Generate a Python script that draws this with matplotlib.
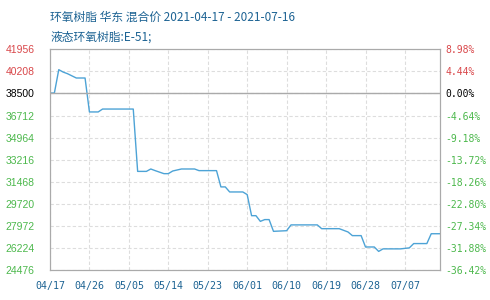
import matplotlib
matplotlib.use("Agg")
from matplotlib import pyplot as plt

# price data (day offset from 2021-04-17, price)
days = [0, 1, 2, 3, 4, 6, 8, 9, 11, 12, 19, 20, 22, 23, 24, 26, 27, 28, 30, 33,
        34, 38, 39, 40, 41, 44, 45, 46, 47, 48, 49, 50, 51, 54, 55, 61, 62, 66,
        68, 69, 71, 72, 74, 75, 76, 80, 82, 83, 86, 87, 89]
prices = [38500, 38500, 40350, 40160, 40030, 39690, 39690, 37000, 37000, 37230,
          37230, 32290, 32290, 32480, 32350, 32110, 32110, 32320, 32480, 32480,
          32350, 32350, 31060, 31060, 30660, 30660, 30450, 28780, 28780, 28330,
          28470, 28470, 27540, 27590, 28050, 28050, 27750, 27750, 27490, 27200,
          27200, 26300, 26300, 25950, 26150, 26150, 26230, 26570, 26570, 27350,
          27350]

base = 38500
y_ticks = [41956, 40208, 38500, 36712, 34964, 33216, 31468, 29720, 27972, 26224, 24476]
pct_labels = ["8.98%", "4.44%", "0.00%", "-4.64%", "-9.18%", "-13.72%", "-18.26%",
              "-22.80%", "-27.34%", "-31.88%", "-36.42%"]
x_ticks = [0, 9, 18, 27, 36, 45, 54, 63, 72, 81]
x_labels = ["04/17", "04/26", "05/05", "05/14", "05/23", "06/01", "06/10",
            "06/19", "06/28", "07/07"]

title1 = "环氧树脂 华东 混合价 2021-04-17 - 2021-07-16"
title2 = "液态环氧树脂:E-51;"

red = "#d9474a"
green = "#4cb84c"
blue_txt = "#1d6393"

fig = plt.figure(figsize=(4.9, 3.0), dpi=100)
ax = fig.add_axes([50 / 490, 30 / 300, 390 / 490, 220.6 / 300])

ax.plot(days, prices, color="#4da3d6", lw=1.0)
ax.axhline(base, color="#aaaaaa", lw=1.0)

ax.set_xlim(0, 89)
ax.set_ylim(24476, 41956)
ax.set_xticks(x_ticks)
ax.set_xticklabels(x_labels, family="DejaVu Sans Mono", fontsize=7.2, color=blue_txt)
ax.set_yticks(y_ticks)
ax.set_yticklabels([str(v) for v in y_ticks], family="Liberation Sans", fontsize=7.5)
for lab, v in zip(ax.get_yticklabels(), y_ticks):
    lab.set_color(red if v > base else ("black" if v == base else green))
ax.tick_params(axis="both", length=0)
ax.tick_params(axis="y", pad=11)
ax.tick_params(axis="x", pad=8)
ax.grid(True, color="#dddddd", ls=(0, (3, 2)), lw=0.8)
for s in ax.spines.values():
    s.set_color("#aaaaaa")

ax2 = ax.twinx()
ax2.set_ylim(24476, 41956)
ax2.set_yticks(y_ticks)
ax2.set_yticklabels(pct_labels, family="DejaVu Sans Mono", fontsize=7)
for lab, v in zip(ax2.get_yticklabels(), y_ticks):
    lab.set_color(red if v > base else ("black" if v == base else green))
ax2.tick_params(axis="y", length=0, pad=4)
for s in ax2.spines.values():
    s.set_color("#aaaaaa")

cjk = ["Noto Sans CJK SC", "DejaVu Sans"]
fig.text(50 / 490, 1 - 17 / 300, title1, family=cjk, fontsize=8.5, color=blue_txt,
         va="center", ha="left")
fig.text(50 / 490, 1 - 37 / 300, title2, family=cjk, fontsize=8.5, color=blue_txt,
         va="center", ha="left")

fig.savefig("out.png", dpi=100)
